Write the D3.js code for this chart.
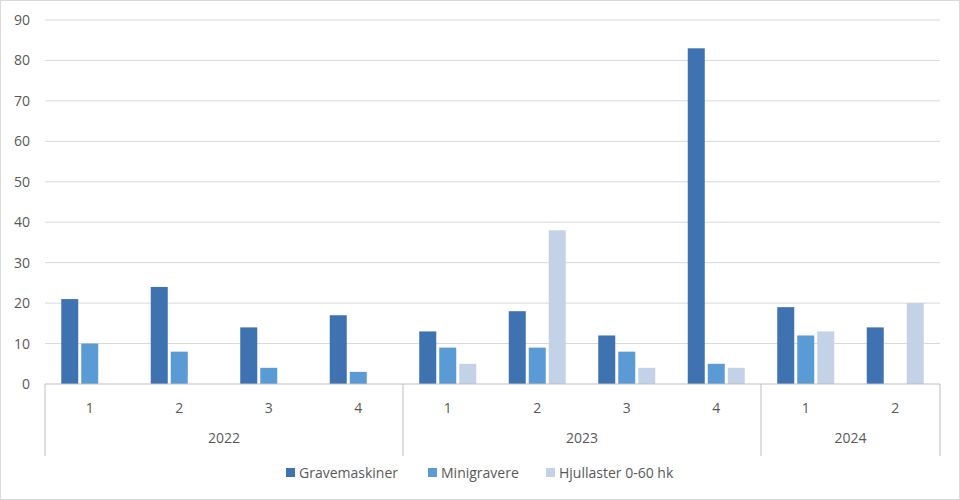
<!DOCTYPE html>
<html><head><meta charset="utf-8">
<script src="https://cdn.jsdelivr.net/npm/d3@7"></script>
<style>body{margin:0;background:#fff}text{font-family:"Open Sans","Liberation Sans",sans-serif;fill:#595959}</style>
</head><body><svg id="c" width="960" height="500"></svg>
<script>
const years    = ["2022","2023","2024"];
const quarters = [["2022","1"],["2022","2"],["2022","3"],["2022","4"],["2023","1"],["2023","2"],["2023","3"],["2023","4"],["2024","1"],["2024","2"]];
const series   = ["Gravemaskiner","Minigravere","Hjullaster 0-60 hk"];
const grave    = [21,24,14,17,13,18,12,83,19,14];
const mini     = [10,8,4,3,9,9,8,5,12,0];
const hjul     = [0,0,0,0,5,38,4,4,13,20];
const colors   = ["#3f72b0","#5a9bd5","#c3d2e7"];
const yTicks   = d3.range(0,100,10);

const svg = d3.select("#c");
svg.append("rect").attr("x",0.5).attr("y",0.5).attr("width",959).attr("height",499).attr("fill","none").attr("stroke","#d9d9d9");
const L=45,R=940,T=20,B=384;
const x = d3.scaleBand().domain(d3.range(quarters.length)).range([L,R]);
const xs = d3.scaleBand().domain(d3.range(3)).range([0,57]).paddingInner(0.15);
const y = d3.scaleLinear().domain([0,90]).range([B,T]);

svg.append("g").selectAll("line").data(yTicks.slice(1)).join("line")
  .attr("x1",L).attr("x2",R).attr("y1",d=>y(d)).attr("y2",d=>y(d)).attr("stroke","#d9d9d9");
svg.append("g").selectAll("text").data(yTicks).join("text")
  .attr("x",L-15).attr("y",d=>y(d)+5).attr("text-anchor","end").attr("font-size",14).text(d=>d);

const data=[grave,mini,hjul];
data.forEach((vals,s)=>{
  svg.append("g").selectAll("rect").data(vals).join("rect")
    .attr("x",(d,i)=>x(i)+x.bandwidth()/2-28.5+xs(s)).attr("width",xs.bandwidth())
    .attr("y",d=>y(d)).attr("height",d=>B-y(d)).attr("fill",colors[s]);
});

svg.append("line").attr("x1",L).attr("x2",R).attr("y1",B).attr("y2",B).attr("stroke","#bfbfbf");
svg.append("g").selectAll("text").data(quarters).join("text")
  .attr("x",(d,i)=>x(i)+x.bandwidth()/2).attr("y",413).attr("text-anchor","middle").attr("font-size",14).text(d=>d[1]);
// group separators
const bounds=[0];
years.forEach(yr=>bounds.push(bounds[bounds.length-1]+quarters.filter(q=>q[0]===yr).length));
svg.append("g").selectAll("line").data(bounds).join("line")
  .attr("x1",d=>d<quarters.length?x(d):R).attr("x2",d=>d<quarters.length?x(d):R)
  .attr("y1",B).attr("y2",456).attr("stroke","#bfbfbf");
svg.append("g").selectAll("text").data(years).join("text")
  .attr("x",(d,i)=>{const a=bounds[i],b=bounds[i+1];return (x(a)+(b<quarters.length?x(b):R))/2;})
  .attr("y",443).attr("text-anchor","middle").attr("font-size",14).text(d=>d);

const lg=svg.append("g");
const lx=[286,428,546];
series.forEach((s,i)=>{
  lg.append("rect").attr("x",lx[i]).attr("y",468).attr("width",9).attr("height",9).attr("fill",colors[i]);
  lg.append("text").attr("x",lx[i]+13).attr("y",478).attr("font-size",14).text(s);
});
</script></body></html>
